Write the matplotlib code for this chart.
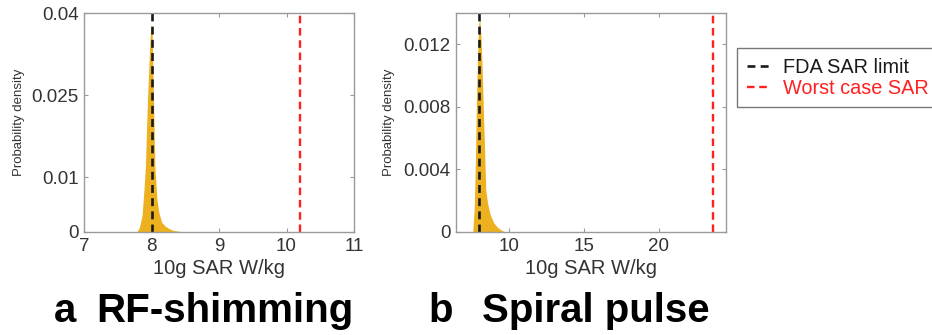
import matplotlib
matplotlib.use("Agg")
import matplotlib.pyplot as plt
import numpy as np

plt.rcParams['font.family'] = ['Liberation Sans', 'DejaVu Sans']

# panel a: RF-shimming
sar_a = [7.78, 7.82, 7.86, 7.89, 7.91, 7.94, 7.97, 7.99, 8.01, 8.03, 8.05,
         8.08, 8.11, 8.15, 8.20, 8.25, 8.32, 8.42, 8.45]
dens_a = [0, 0.0008, 0.003, 0.008, 0.012, 0.024, 0.033, 0.038, 0.036, 0.024,
          0.012, 0.006, 0.0035, 0.0018, 0.0011, 0.0007, 0.0003, 0.0001, 0]
fda_a = 8.0
worst_a = 10.2
xticks_a = [7, 8, 9, 10, 11]
yticks_a = [0, 0.01, 0.025, 0.04]
yticklabels_a = ['0', '0.01', '0.025', '0.04']

# panel b: spiral pulse
sar_b = [7.55, 7.65, 7.72, 7.80, 7.88, 7.95, 8.02, 8.10, 8.18, 8.26, 8.33,
         8.42, 8.55, 8.72, 8.95, 9.20, 9.50, 9.70]
dens_b = [0, 0.0015, 0.004, 0.0085, 0.0115, 0.0133, 0.0136, 0.0125, 0.0105,
          0.0078, 0.0057, 0.0027, 0.0018, 0.0011, 0.0006, 0.0003, 0.0001, 0]
fda_b = 8.0
worst_b = 23.6
xticks_b = [10, 15, 20]
yticks_b = [0, 0.004, 0.008, 0.012]
yticklabels_b = ['0', '0.004', '0.008', '0.012']

fill_col = '#EDB120'
txt_col = '#333333'
frame_col = '#9a9a9a'

fig = plt.figure(figsize=(9.32, 3.35), dpi=100)
ax_a = fig.add_axes([84/932, 1-232/335, 270/932, 219/335])
ax_b = fig.add_axes([456/932, 1-232/335, 270/932, 219/335])


def style(ax, sar, dens, fda, worst, xlim, ylim, xt, yt, ytl, ylab_x):
    ax.fill_between(sar, dens, 0, color=fill_col, linewidth=0)
    l1, = ax.plot([fda, fda], [0, 1], transform=ax.get_xaxis_transform(),
                  color='#1a1a1a', lw=1.9, dashes=(3, 2), label='FDA SAR limit')
    l2, = ax.plot([worst, worst], [0, 1], transform=ax.get_xaxis_transform(),
                  color='#ff2020', lw=1.7, dashes=(3.2, 2), label='Worst case SAR')
    ax.set_xlim(*xlim)
    ax.set_ylim(*ylim)
    ax.set_xticks(xt)
    ax.set_xticklabels([str(v) for v in xt])
    ax.set_yticks(yt)
    ax.set_yticklabels(ytl)
    ax.tick_params(direction='in', length=3, width=0.8, color=frame_col,
                   top=True, right=True, labelsize=13.5, labelcolor=txt_col, pad=4)
    for s in ax.spines.values():
        s.set_color(frame_col)
        s.set_linewidth(1.0)
    ax.set_xlabel('10g SAR W/kg', fontsize=14.5, color=txt_col, va='top')
    ax.xaxis.set_label_coords(0.5, -0.122)
    ax.set_ylabel('Probability density', fontsize=9.5, color=txt_col)
    ax.yaxis.set_label_coords(ylab_x, 0.5)
    return l1, l2


style(ax_a, sar_a, dens_a, fda_a, worst_a, (7, 11), (0, 0.04),
      xticks_a, yticks_a, yticklabels_a, -0.22)
h1, h2 = style(ax_b, sar_b, dens_b, fda_b, worst_b, (6.43, 24.5), (0, 0.014),
               xticks_b, yticks_b, yticklabels_b, -0.225)

leg = fig.legend(handles=[h1, h2], loc='upper left',
                 bbox_to_anchor=(737/932, 1-48/335), frameon=True, fancybox=False,
                 fontsize=14.3, handlelength=1.1, handletextpad=0.7,
                 borderpad=0.5, labelspacing=0.08, borderaxespad=0,
                 labelcolor='linecolor')
leg.get_frame().set_edgecolor('#555555')
leg.get_frame().set_linewidth(1.0)

base_y = 1 - 322/335
fig.text(54/932, base_y, 'a', fontsize=29, fontweight='bold', va='baseline')
fig.text(96/932, base_y, 'RF-shimming', fontsize=29, fontweight='bold', va='baseline')
fig.text(428/932, base_y, 'b', fontsize=29, fontweight='bold', va='baseline')
fig.text(482/932, base_y, 'Spiral pulse', fontsize=29, fontweight='bold', va='baseline')

fig.savefig('out.png', dpi=100)
